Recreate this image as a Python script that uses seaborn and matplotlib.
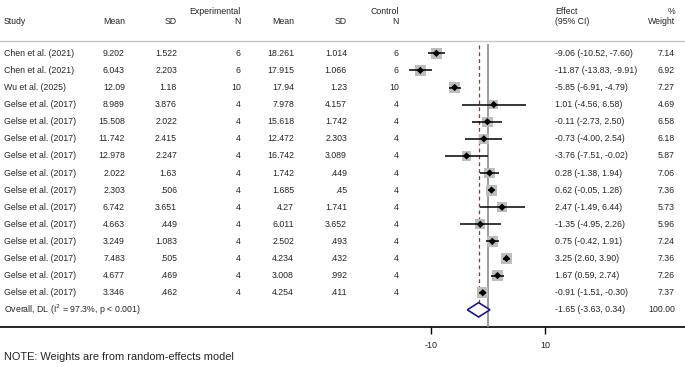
import numpy as np
import pandas as pd
import seaborn as sns
import matplotlib.pyplot as plt
from matplotlib.transforms import blended_transform_factory

# ---- data ----
STUDIES = ["Chen et al. (2021)", "Chen et al. (2021)", "Wu et al. (2025)"] + ["Gelse et al. (2017)"] * 12
EXP_MEAN = [9.202, 6.043, 12.09, 8.989, 15.508, 11.742, 12.978, 2.022, 2.303, 6.742, 4.663, 3.249, 7.483, 4.677, 3.346]
EXP_SD = [1.522, 2.203, 1.18, 3.876, 2.022, 2.415, 2.247, 1.63, .506, 3.651, .449, 1.083, .505, .469, .462]
EXP_N = [6, 6, 10, 4, 4, 4, 4, 4, 4, 4, 4, 4, 4, 4, 4]
CTL_MEAN = [18.261, 17.915, 17.94, 7.978, 15.618, 12.472, 16.742, 1.742, 1.685, 4.27, 6.011, 2.502, 4.234, 3.008, 4.254]
CTL_SD = [1.014, 1.066, 1.23, 4.157, 1.742, 2.303, 3.089, .449, .45, 1.741, 3.652, .493, .432, .992, .411]
CTL_N = [6, 6, 10, 4, 4, 4, 4, 4, 4, 4, 4, 4, 4, 4, 4]
EFFECT = [-9.06, -11.87, -5.85, 1.01, -0.11, -0.73, -3.76, 0.28, 0.62, 2.47, -1.35, 0.75, 3.25, 1.67, -0.91]
CI_LO = [-10.52, -13.83, -6.91, -4.56, -2.73, -4.00, -7.51, -1.38, -0.05, -1.49, -4.95, -0.42, 2.60, 0.59, -1.51]
CI_HI = [-7.60, -9.91, -4.79, 6.58, 2.50, 2.54, -0.02, 1.94, 1.28, 6.44, 2.26, 1.91, 3.90, 2.74, -0.30]
WEIGHT = [7.14, 6.92, 7.27, 4.69, 6.58, 6.18, 5.87, 7.06, 7.36, 5.73, 5.96, 7.24, 7.36, 7.26, 7.37]
OVERALL = (-1.65, -3.63, 0.34)
OVERALL_WEIGHT = 100.00
OVERALL_LABEL = "Overall, DL (I$^2$ = 97.3%, p < 0.001)"
XTICKS = [-10, 10]
NOTE = "NOTE: Weights are from random-effects model"


def fmt(v):
    s = f"{v:g}"
    return s[1:] if s.startswith("0.") else s


sns.set_theme(style="white")
plt.rcParams["font.family"] = ["Liberation Sans", "DejaVu Sans"]

W, H = 685, 367
fig = plt.figure(figsize=(W / 100, H / 100), dpi=100)

# full-figure axes for the table text, pixel coordinates
ax_t = fig.add_axes([0, 0, 1, 1])
ax_t.set_xlim(0, W)
ax_t.set_ylim(H, 0)
ax_t.axis("off")

# forest axes: x in effect units, y in row units
px0, scale = 488.0, 5.7
xl, xr = -14.6, 10.9
top_px, bot_px = 44.0, 327.0
row0_px, row_h = 53.3, 17.1
ax_f = fig.add_axes([(px0 + xl * scale) / W, (H - bot_px) / H,
                     (xr - xl) * scale / W, (bot_px - top_px) / H])
ax_f.set_xlim(xl, xr)
ax_f.set_ylim((bot_px - row0_px) / row_h, (top_px - row0_px) / row_h)
ax_f.patch.set_alpha(0)
for sp in ax_f.spines.values():
    sp.set_visible(False)

df = pd.DataFrame({"effect": EFFECT, "lo": CI_LO, "hi": CI_HI, "weight": WEIGHT,
                   "row": np.arange(len(EFFECT))})
n = len(df)
ov_row = n

# reference lines
ax_f.axvline(0, color="#8c8c8c", lw=1.2, zorder=1)
ax_f.vlines(OVERALL[0], (top_px + 1 - row0_px) / row_h, ov_row + 0.42,
            color="#c0202a", lw=0.9, linestyles=(0, (3, 2.5)), zorder=1)

# weight squares (area proportional to weight)
k = 8.5
sns.scatterplot(data=df, x="effect", y="row", size="weight",
                sizes=(k * df.weight.min(), k * df.weight.max()),
                marker="s", color="#bdbdbd", edgecolor="none", legend=False,
                ax=ax_f, zorder=2)
ax_f.hlines(df.row, df.lo, df.hi, color="black", lw=1.1, zorder=3)
sns.scatterplot(data=df, x="effect", y="row", marker="D", s=14, color="black",
                edgecolor="none", legend=False, ax=ax_f, zorder=4)

# overall diamond
e, lo, hi = OVERALL
hh = 0.42
ax_f.fill([lo, e, hi, e, lo], [ov_row, ov_row - hh, ov_row, ov_row + hh, ov_row],
          facecolor="white", edgecolor="#1a1a80", lw=1.2, zorder=5)

ax_f.set_xlabel("")
ax_f.set_ylabel("")
ax_f.set_yticks([])
ax_f.set_xticks(XTICKS)
ax_f.set_xticklabels([str(t) for t in XTICKS])
ax_f.tick_params(axis="x", bottom=True, direction="out", length=5, width=1,
                 color="black", labelsize=6.5, pad=5)

# horizontal rules
ax_t.axhline(41, color="#c8c8c8", lw=1)
ax_t.axhline(327, color="black", lw=1.2)

fs = 6.3
tr = blended_transform_factory(ax_t.transData, ax_f.transData)

# headers
ax_t.text(241, 12, "Experimental", ha="right", va="center", fontsize=fs)
ax_t.text(399, 12, "Control", ha="right", va="center", fontsize=fs)
ax_t.text(555, 12, "Effect", ha="left", va="center", fontsize=fs)
ax_t.text(675, 12, "%", ha="right", va="center", fontsize=fs)
ax_t.text(4, 21, "Study", ha="left", va="center", fontsize=fs)
for xx, lab in [(125, "Mean"), (177, "SD"), (241, "N"), (294, "Mean"), (347, "SD"), (399, "N")]:
    ax_t.text(xx, 21, lab, ha="right", va="center", fontsize=fs)
ax_t.text(555, 21, "(95% CI)", ha="left", va="center", fontsize=fs)
ax_t.text(675, 21, "Weight", ha="right", va="center", fontsize=fs)

# rows
for i in range(n):
    cells = [(125, fmt(EXP_MEAN[i])), (177, fmt(EXP_SD[i])), (241, str(EXP_N[i])),
             (294, fmt(CTL_MEAN[i])), (347, fmt(CTL_SD[i])), (399, str(CTL_N[i]))]
    ax_t.text(4, i, STUDIES[i], ha="left", va="center", fontsize=fs, transform=tr)
    for xx, s in cells:
        ax_t.text(xx, i, s, ha="right", va="center", fontsize=fs, transform=tr)
    ax_t.text(555, i, f"{EFFECT[i]:.2f} ({CI_LO[i]:.2f}, {CI_HI[i]:.2f})",
              ha="left", va="center", fontsize=fs, transform=tr)
    ax_t.text(675, i, f"{WEIGHT[i]:.2f}", ha="right", va="center", fontsize=fs, transform=tr)

ax_t.text(4, ov_row, OVERALL_LABEL, ha="left", va="center", fontsize=fs, transform=tr)
ax_t.text(555, ov_row, f"{e:.2f} ({lo:.2f}, {hi:.2f})", ha="left", va="center",
          fontsize=fs, transform=tr)
ax_t.text(675, ov_row, f"{OVERALL_WEIGHT:.2f}", ha="right", va="center", fontsize=fs, transform=tr)

ax_t.text(4, 357, NOTE, ha="left", va="center", fontsize=7.9)

fig.savefig("out.png", dpi=100, facecolor="white")
